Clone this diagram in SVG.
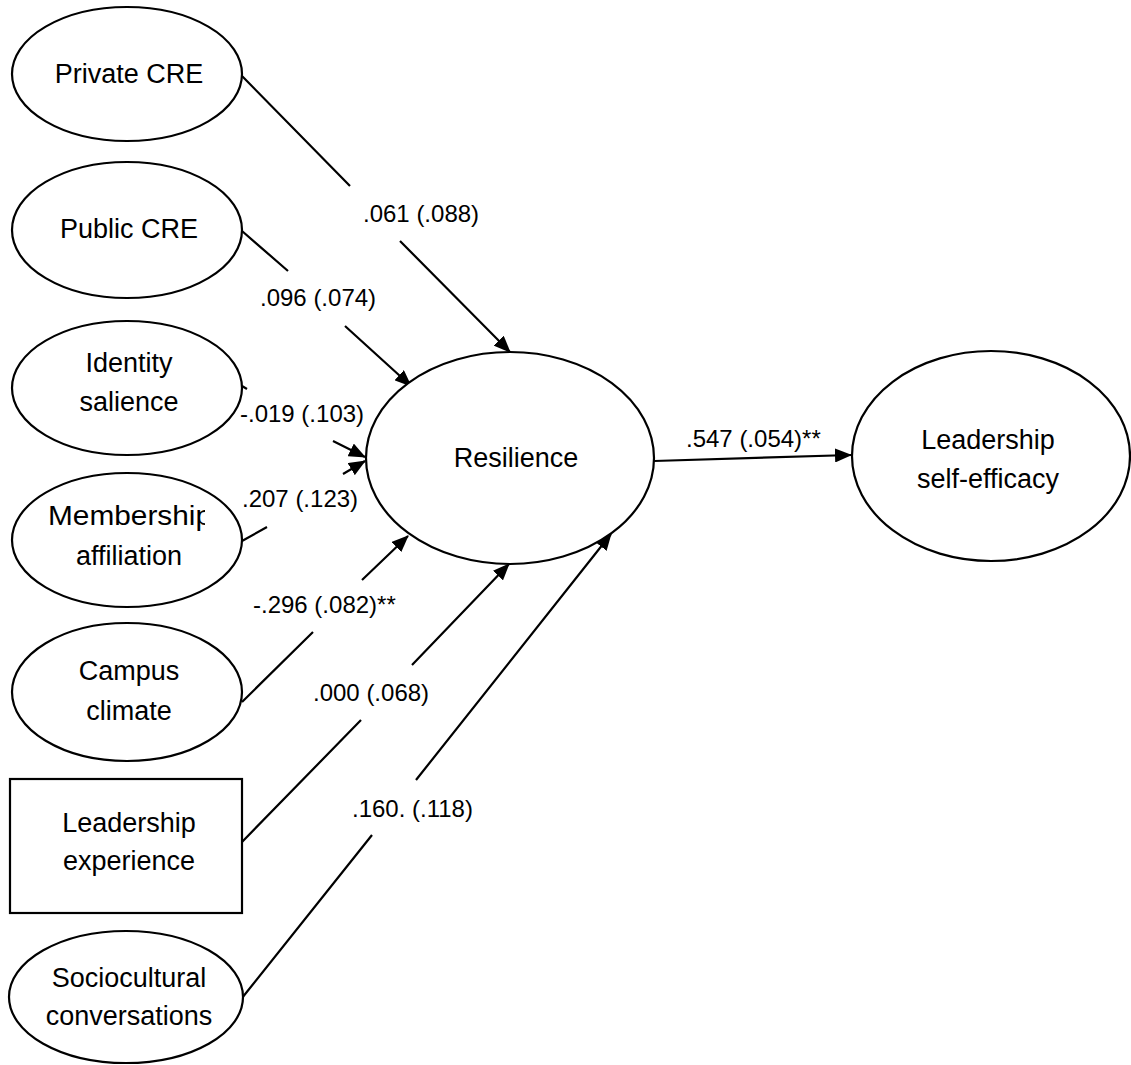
<svg xmlns="http://www.w3.org/2000/svg" width="1131" height="1065" viewBox="0 0 1131 1065">
<style>
.n{fill:#fff;stroke:#000;stroke-width:2.2}
.t{font-family:"Liberation Sans",Arial,sans-serif;font-size:27px;fill:#000;text-anchor:middle}
.l{font-family:"Liberation Sans",Arial,sans-serif;font-size:24px;fill:#000}
.c{fill:none;stroke:#000;stroke-width:2.2}
</style>
<defs>
<marker id="ah" markerUnits="userSpaceOnUse" markerWidth="17" markerHeight="14" viewBox="0 0 17 14" refX="16" refY="7" orient="auto">
<path d="M0,0 L17,7 L0,14 Z" fill="#000"/>
</marker>
<clipPath id="mclip"><rect x="0" y="490" width="205" height="50"/></clipPath>
</defs>
<rect width="1131" height="1065" fill="#fff"/>
<g id="connectors">
<path class="c" d="M242,76 L350,186 M400,241 L510,352" marker-end="url(#ah)"/>
<path class="c" d="M242,231 L288,271 M345,326 L411,386" marker-end="url(#ah)"/>
<path class="c" d="M242,386 L247,389 M333,441 L365,457" marker-end="url(#ah)"/>
<path class="c" d="M242,541 L267,527 M343,474 L365,461" marker-end="url(#ah)"/>
<path class="c" d="M242,702 L313,632 M362,580 L408,536" marker-end="url(#ah)"/>
<path class="c" d="M242,842 L361,720 M412,665 L509,564" marker-end="url(#ah)"/>
<path class="c" d="M242,998 L372,835 M416,780 L611,534" marker-end="url(#ah)"/>
<path class="c" d="M654,461 L851,455" stroke-width="2.6" marker-end="url(#ah)"/>
</g>
<g id="labels">
<text class="l" x="363" y="222">.061 (.088)</text>
<text class="l" x="260" y="306">.096 (.074)</text>
<text class="l" x="240" y="422">-.019 (.103)</text>
<text class="l" x="242" y="507">.207 (.123)</text>
<text class="l" x="253" y="613">-.296 (.082)**</text>
<text class="l" x="313" y="701">.000 (.068)</text>
<text class="l" x="352" y="817">.160. (.118)</text>
<text class="l" x="686" y="447">.547 (.054)**</text>
</g>
<g id="private-cre"><ellipse class="n" cx="127" cy="74" rx="115" ry="67"/><text class="t" x="129" y="83">Private CRE</text></g>
<g id="public-cre"><ellipse class="n" cx="127" cy="230" rx="115" ry="68"/><text class="t" x="129" y="238">Public CRE</text></g>
<g id="identity-salience"><ellipse class="n" cx="127" cy="388" rx="115" ry="67"/><text class="t" x="129" y="372">Identity</text><text class="t" x="129" y="411">salience</text></g>
<g id="membership-affiliation"><ellipse class="n" cx="127" cy="540" rx="115" ry="67"/><text class="t" x="48" y="525" style="text-anchor:start" textLength="164" lengthAdjust="spacingAndGlyphs" clip-path="url(#mclip)">Membership</text><text class="t" x="129" y="565">affiliation</text></g>
<g id="campus-climate"><ellipse class="n" cx="127" cy="692" rx="115" ry="69"/><text class="t" x="129" y="680">Campus</text><text class="t" x="129" y="720">climate</text></g>
<g id="leadership-experience"><rect class="n" x="10" y="779" width="232" height="134"/><text class="t" x="129" y="832">Leadership</text><text class="t" x="129" y="870">experience</text></g>
<g id="sociocultural-conversations"><ellipse class="n" cx="126" cy="997" rx="117" ry="66"/><text class="t" x="129" y="987">Sociocultural</text><text class="t" x="129" y="1025">conversations</text></g>
<g id="resilience"><ellipse class="n" cx="510" cy="458" rx="144" ry="106"/><text class="t" x="516" y="467">Resilience</text></g>
<g id="leadership-self-efficacy"><ellipse class="n" cx="991" cy="456" rx="139" ry="105"/><text class="t" x="988" y="449">Leadership</text><text class="t" x="988" y="488">self-efficacy</text></g>
</svg>
